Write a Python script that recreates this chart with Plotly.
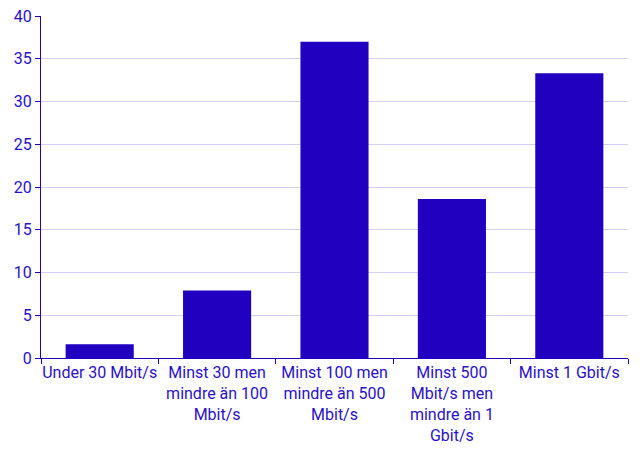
import plotly.graph_objects as go

categories = ["Under 30 Mbit/s", "Minst 30 men<br>mindre än 100<br>Mbit/s",
              "Minst 100 men<br>mindre än 500<br>Mbit/s",
              "Minst 500<br>Mbit/s men<br>mindre än 1<br>Gbit/s", "Minst 1 Gbit/s"]
values = [1.6, 7.9, 37.0, 18.6, 33.3]
y_ticks = [0, 5, 10, 15, 20, 25, 30, 35, 40]

color = "#2200c0"
text_color = "#2a10c8"

fig = go.Figure(go.Bar(x=categories, y=values, marker_color=color, marker_line_width=0))
fig.update_layout(
    width=643, height=454,
    margin=dict(l=41, r=15, t=16, b=96, autoexpand=False),
    paper_bgcolor="white", plot_bgcolor="white",
    bargap=0.42,
    font=dict(family="Roboto", size=16, color=text_color),
    showlegend=False,
)
fig.update_xaxes(type="category", tickson="boundaries", ticks="outside", ticklen=5,
                 tickcolor=color, showline=True, linecolor=color, linewidth=1,
                 showgrid=False, tickangle=0, automargin=False)
fig.update_yaxes(range=[0, 40], tickvals=y_ticks, ticks="outside", ticklen=5,
                 tickcolor=color, showline=True, linecolor=color, linewidth=1,
                 gridcolor="#d4d0f0", gridwidth=1, zeroline=False, automargin=False)
fig.write_html("out.html", config={"displayModeBar": False},
               post_script="document.body.style.margin='0';")
